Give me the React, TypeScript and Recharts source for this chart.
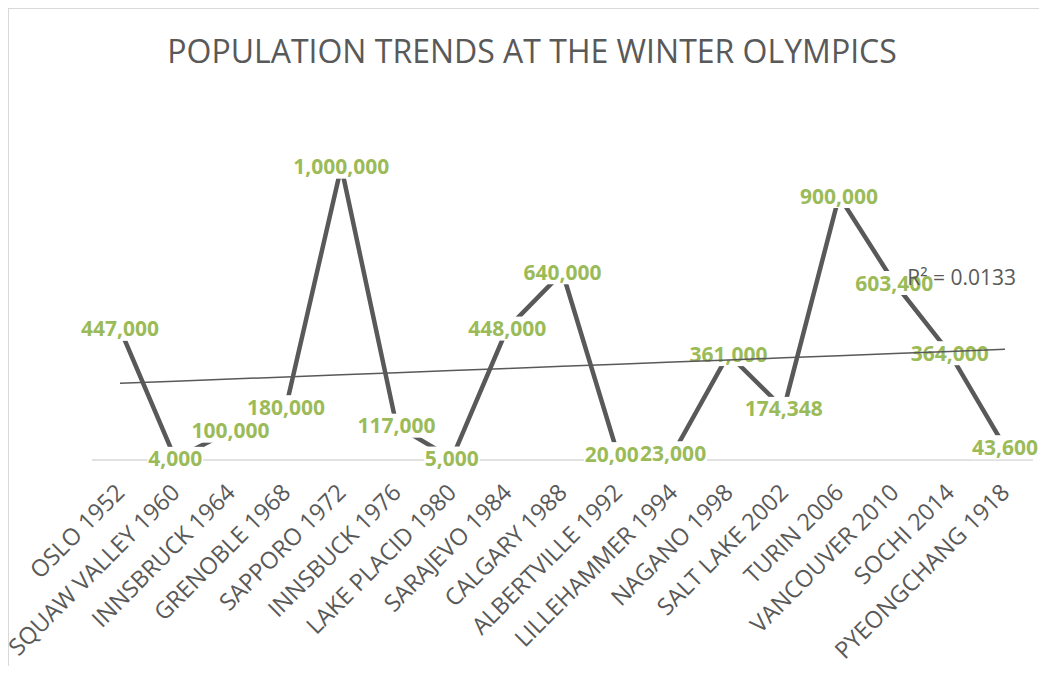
import React from "react";
import { LineChart, Line, XAxis, YAxis, LabelList, ReferenceDot } from "recharts";

const cities = [
  "OSLO 1952",
  "SQUAW VALLEY 1960",
  "INNSBRUCK 1964",
  "GRENOBLE 1968",
  "SAPPORO 1972",
  "INNSBUCK 1976",
  "LAKE PLACID 1980",
  "SARAJEVO 1984",
  "CALGARY 1988",
  "ALBERTVILLE 1992",
  "LILLEHAMMER 1994",
  "NAGANO 1998",
  "SALT LAKE 2002",
  "TURIN 2006",
  "VANCOUVER 2010",
  "SOCHI 2014",
  "PYEONGCHANG 1918",
];

const population = [
  447000, 4000, 100000, 180000, 1000000, 117000, 5000, 448000, 640000, 20000, 23000, 361000, 174348, 900000,
  603400, 364000, 43600,
];

const rSquaredText = "R² = 0.0133";

// linear trendline (least squares over category index)
const n = population.length;
const meanX = (n - 1) / 2;
const meanY = population.reduce((a, b) => a + b, 0) / n;
let sxy = 0;
let sxx = 0;
population.forEach((v, i) => {
  sxy += (i - meanX) * (v - meanY);
  sxx += (i - meanX) * (i - meanX);
});
const slope = sxy / sxx;
const intercept = meanY - slope * meanX;

const data = cities.map((city, i) => ({
  city,
  population: population[i],
  trend: intercept + slope * i,
}));

const GREEN = "#9bbb59";
const GRAY = "#595959";
const FONT = "'Open Sans', sans-serif";

const textWidth = (s: string) => s.split("").reduce((w, c) => w + (c === "," ? 5.6 : 12), 0);

const ValueLabel = (props: any) => {
  const { x, y, value } = props;
  const s = Number(value).toLocaleString("en-US");
  const w = textWidth(s);
  return (
    <g>
      <rect x={x - w / 2 - 1} y={y - 12} width={w + 2} height={24} fill="#fff" />
      <text
        x={x}
        y={y}
        dy="0.36em"
        textAnchor="middle"
        fill={GREEN}
        fontFamily={FONT}
        fontWeight={700}
        fontSize={21}
      >
        {s}
      </text>
    </g>
  );
};

const CityTick = (props: any) => {
  const { x, y, payload } = props;
  const tx = x + 6;
  const ty = y + 26;
  return (
    <text
      x={tx}
      y={ty}
      transform={`rotate(-45 ${tx} ${ty})`}
      textAnchor="end"
      fill={GRAY}
      fontFamily={FONT}
      fontSize={23.5}
    >
      {payload.value}
    </text>
  );
};

export default function App() {
  return (
    <div
      style={{
        position: "relative",
        width: 1039,
        height: 658,
        borderTop: "1px solid #d9d9d9",
        borderLeft: "1px solid #d9d9d9",
        boxSizing: "border-box",
        background: "#fff",
      }}
    >
      <div
        style={{
          position: "absolute",
          left: 8,
          right: 0,
          top: 20,
          textAlign: "center",
          fontFamily: FONT,
          fontSize: 32,
          color: GRAY,
        }}
      >
        POPULATION TRENDS AT THE WINTER OLYMPICS
      </div>
      <LineChart width={1038} height={657} data={data} margin={{ top: 99, right: 14, bottom: 0, left: 83 }}>
        <XAxis
          dataKey="city"
          interval={0}
          tickLine={false}
          axisLine={{ stroke: "#d9d9d9", strokeWidth: 1.5 }}
          tick={<CityTick />}
          height={206}
          padding={{ left: 28, right: 28 }}
        />
        <YAxis hide domain={[0, 1200000]} />
        <Line
          dataKey="population"
          stroke={GRAY}
          strokeWidth={4.5}
          dot={false}
          activeDot={false}
          isAnimationActive={false}
        >
          <LabelList dataKey="population" content={<ValueLabel />} />
        </Line>
        <Line
          dataKey="trend"
          stroke={GRAY}
          strokeWidth={1.5}
          dot={false}
          activeDot={false}
          isAnimationActive={false}
          zIndex={2500}
        />
        <ReferenceDot
          x="SOCHI 2014"
          y={621000}
          r={1}
          fill="none"
          stroke="none"
          zIndex={2600}
          label={{ value: rSquaredText, position: "center", dx: 12, fill: GRAY, fontSize: 21, fontFamily: FONT }}
        />
      </LineChart>
    </div>
  );
}
